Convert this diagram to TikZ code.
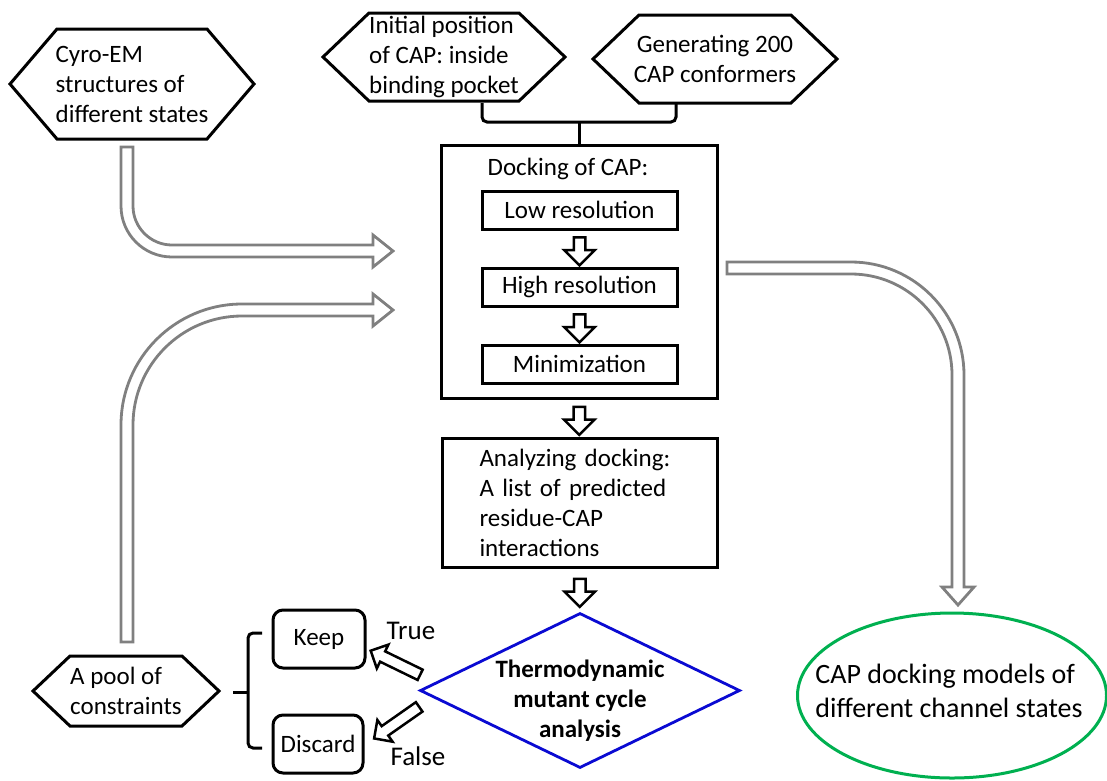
\documentclass[tikz,border=0pt]{standalone}
\usepackage{fontspec}
\setmainfont{Carlito}
\usetikzlibrary{shapes,arrows,positioning,calc}
\definecolor{tubegray}{RGB}{128,128,128}
\definecolor{tmcblue}{RGB}{10,10,210}
\definecolor{modelgreen}{RGB}{0,176,80}

% hexagon round a node: name, half top edge, half height, point depth
\newcommand{\hexframe}[4]{%
  \draw[boxline] ([xshift=-#2pt,yshift=#3pt]#1.center)
    -- ([xshift=#2pt,yshift=#3pt]#1.center)
    -- ([xshift=#2pt+#4pt]#1.center)
    -- ([xshift=#2pt,yshift=-#3pt]#1.center)
    -- ([xshift=-#2pt,yshift=-#3pt]#1.center)
    -- ([xshift=-#2pt-#4pt]#1.center) -- cycle;}

\begin{document}
\begin{tikzpicture}[
    x=1pt, y=-1pt,
    node distance=36pt,
    every node/.style={font=\fontsize{25}{30}\selectfont, inner sep=0pt},
    boxline/.style={draw, line width=3pt},
    stage/.style={draw, line width=3pt, minimum width=195pt, minimum height=38pt},
    choice/.style={draw, line width=3pt, rounded corners=10pt, minimum width=92pt, minimum height=58pt},
    blockarrow/.style={single arrow, draw, fill=white, line width=2.5pt, inner sep=4.5pt, single arrow head extend=9.5pt, minimum height=28pt, shape border rotate=270},
    slantarrow/.style={single arrow, draw, fill=white, line width=2.5pt, inner sep=4.5pt, single arrow head extend=7.5pt, minimum height=55pt},
    branch/.style={font=\fontsize{27}{32}\selectfont},
    tube/.style={draw=tubegray, line width=2.8pt, fill=white}
]
\useasboundingbox (0,0) rectangle (1107,780);

% Inputs
\node[align=left] (cryo) at (132,84) {Cyro-EM\\structures of\\different states};
\hexframe{cryo}{75}{55}{47}
\node[align=left] (initpos) at (444,57) {Initial position\\of CAP: inside\\binding pocket};
\hexframe{initpos}{75}{44}{46}
\node[align=center] (gen) at (715,59) {Generating 200\\CAP conformers};
\hexframe{gen}{76}{44}{46}

% Docking
\node[boxline, minimum width=276pt, minimum height=253pt] (dock) at (579,271.5) {};
\node[anchor=base] (docktitle) at (568,175) {Docking of CAP:};
\node[stage] (low) at (579.5,210) {Low resolution};
\node[stage, below=of low] (high) {High resolution};
\node[stage, below=of high] (minim) {Minimization};
\node[blockarrow] (a1) at ($(low.south)!0.5!(high.north)$) {};
\node[blockarrow] (a2) at ($(high.south)!0.5!(minim.north)$) {};
\coordinate (join) at (579,122);
\draw[line width=3pt, rounded corners=5pt] (482,103) -- (482,122) -- (676,122) -- (676,103);
\draw[line width=3pt] (join) -- (dock.north);

% Analysis
\node[boxline, minimum width=275pt, minimum height=129pt, text width=200pt, align=left] (ana) at (579.5,502.5) {Analyzing docking:\\A list of predicted\\residue-CAP\\interactions};
\node[blockarrow] (a3) at ($(dock.south)!0.5!(ana.north)$) {};
\node[diamond, draw=tmcblue, line width=2.8pt, minimum width=320pt, minimum height=155pt, aspect=2.06] (tmc) at (580,690.5) {};
\node[font=\fontsize{25}{30}\selectfont\bfseries, align=center] (tmctxt) at (580,701) {Thermodynamic\\mutant cycle\\analysis};
\node[blockarrow] (a4) at ($(ana.south)!0.5!(tmc.north)$) {};

% Constraints
\node[choice] (keep) at (319,639) {Keep};
\node[choice, minimum width=90pt] (discard) at (318,744) {Discard};
\node[slantarrow, rotate=154] (yes) at (398,664) {};
\node[slantarrow, rotate=215] (no) at (399,721) {};
\node[branch] (truelbl) at (411,631) {True};
\node[branch] (falselbl) at (418,756) {False};
\node[align=left] (pool) at (126,691) {A pool of\\constraints};
\hexframe{pool}{56}{35}{37}
\draw[line width=3pt, rounded corners=5pt] (262,633) -- (248,633) -- (248,748) -- (262,748);
\draw[line width=3pt] (233,692) -- (248,692);

% Output
\node[ellipse, draw=modelgreen, line width=3pt, minimum width=309pt, minimum height=165pt] (models) at (952,695.5) {};
\node[font=\fontsize{28}{34}\selectfont, align=left] (modelstxt) at (949,691) {CAP docking models of\\different channel states};

% Gray tube arrows
\draw[tube] (121,147) -- (121,206) .. controls (121,234.2) and (143.8,257) .. (172,257)
  -- (373,257) -- (373,267) -- (393,251) -- (373,235) -- (373,245) -- (172,245)
  .. controls (150.5,245) and (133,227.5) .. (133,206) -- (133,147) -- cycle;
\draw[tube] (121,642) -- (121,425) .. controls (121,358.2) and (175.2,304) .. (242,304)
  -- (373,304) -- (373,294) -- (393,310) -- (373,326) -- (373,316) -- (242,316)
  .. controls (181.8,316) and (133,364.8) .. (133,425) -- (133,642) -- cycle;
\draw[tube] (727,262) -- (851,262) .. controls (913.4,262) and (964,312.6) .. (964,375)
  -- (964,587) -- (974,587) -- (958,605) -- (942,587) -- (952,587) -- (952,375)
  .. controls (952,319.2) and (906.8,274) .. (851,274) -- (727,274) -- cycle;

\end{tikzpicture}
\end{document}
